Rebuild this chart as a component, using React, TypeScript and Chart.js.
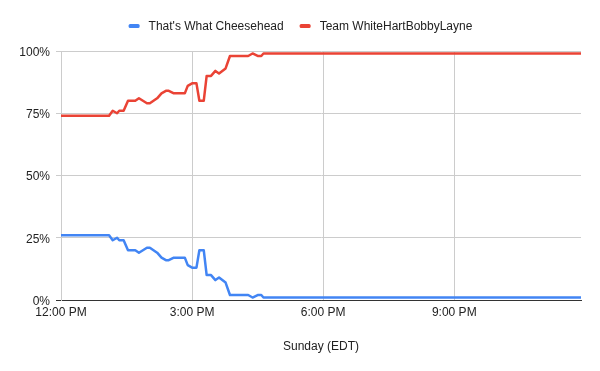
import React, { useEffect, useRef } from 'react';
import { Chart, registerables } from 'chart.js';

Chart.register(...registerables);

const FONT = "'Liberation Sans', Arial, Helvetica, sans-serif";

const seriesNames = ["That's What Cheesehead", 'Team WhiteHartBobbyLayne'];
const seriesColors = ['#4285F4', '#EA4335'];

// minutes after 12:00 PM (Sunday, EDT)
const minutesAfterNoon = [0, 66, 71, 77, 80, 86, 92, 102, 107, 118, 122, 132, 138, 144, 148, 155, 170, 174, 180, 186, 190, 196, 200, 206, 212, 217, 226, 232, 257, 263, 270, 275, 278, 714];
const cheeseheadPct = [26, 26, 24, 25, 24, 24, 20, 20, 19, 21, 21, 19, 17, 16, 16, 17, 17, 14, 13, 13, 20, 20, 10, 10, 8, 9, 7, 2, 2, 1, 2, 2, 1, 1];
const whiteHartPct = [74, 74, 76, 75, 76, 76, 80, 80, 81, 79, 79, 81, 83, 84, 84, 83, 83, 86, 87, 87, 80, 80, 90, 90, 92, 91, 93, 98, 98, 99, 98, 98, 99, 99];

const xTickValues = [0, 180, 360, 540];
const xTickLabels = ['12:00 PM', '3:00 PM', '6:00 PM', '9:00 PM'];
const yTickValues = [0, 25, 50, 75, 100];
const xAxisTitle = 'Sunday (EDT)';

const legendPlugin = {
  id: 'customLegend',
  afterDraw(chart: any) {
    const ctx = chart.ctx;
    ctx.save();
    ctx.font = `12px ${FONT}`;
    ctx.textBaseline = 'middle';
    ctx.textAlign = 'left';
    const markerW = 11;
    const markerH = 4;
    const gap = 9;
    const itemGap = 16;
    const y = 26.5;
    const widths = seriesNames.map((n) => ctx.measureText(n).width);
    const total = widths.reduce((s, w) => s + markerW + gap + w, 0) + itemGap * (seriesNames.length - 1);
    let x = 300.5 - total / 2;
    seriesNames.forEach((n, i) => {
      ctx.fillStyle = seriesColors[i];
      ctx.beginPath();
      if (ctx.roundRect) ctx.roundRect(x, y - 0.5 - markerH / 2, markerW, markerH, 1.5);
      else ctx.rect(x, y - 0.5 - markerH / 2, markerW, markerH);
      ctx.fill();
      ctx.fillStyle = '#222';
      ctx.fillText(n, x + markerW + gap, y);
      x += markerW + gap + widths[i] + itemGap;
    });
    ctx.restore();
  },
};

export default function App() {
  const canvasRef = useRef<HTMLCanvasElement | null>(null);

  useEffect(() => {
    if (!canvasRef.current) return;
    Chart.defaults.font.family = FONT;
    const series = [cheeseheadPct, whiteHartPct];
    const chart = new Chart(canvasRef.current, {
      type: 'line',
      data: {
        datasets: series.map((vals, i) => ({
          label: seriesNames[i],
          data: minutesAfterNoon.map((m, j) => ({ x: m, y: vals[j] })),
          borderColor: seriesColors[i],
          backgroundColor: seriesColors[i],
          borderWidth: 2.5,
          pointRadius: 0,
          tension: 0,
          borderJoinStyle: 'round' as const,
          fill: false,
        })),
      },
      options: {
        responsive: false,
        animation: false,
        layout: { padding: { top: 51, right: 19, bottom: 0, left: 0 } },
        plugins: {
          legend: { display: false },
          tooltip: { enabled: false },
        },
        scales: {
          x: {
            type: 'linear',
            min: 0,
            max: 714,
            afterFit: (scale: any) => {
              scale.height = 71;
            },
            afterBuildTicks: (scale: any) => {
              scale.ticks = xTickValues.map((v) => ({ value: v }));
            },
            ticks: {
              padding: 5,
              color: '#222',
              font: { size: 12 },
              maxRotation: 0,
              autoSkip: false,
              callback: (v: any) => {
                const idx = xTickValues.indexOf(Number(v));
                return idx >= 0 ? xTickLabels[idx] : '';
              },
            },
            grid: { color: '#cccccc', drawTicks: false, lineWidth: 1 },
            border: { color: '#333333', width: 1 },
            title: {
              display: true,
              text: xAxisTitle,
              color: '#222',
              font: { size: 12 },
              padding: { top: 4, bottom: 17 },
            },
          },
          y: {
            type: 'linear',
            min: 0,
            max: 100,
            afterFit: (scale: any) => {
              scale.width = 61;
            },
            afterBuildTicks: (scale: any) => {
              scale.ticks = yTickValues.map((v) => ({ value: v }));
            },
            ticks: {
              padding: 6,
              labelOffset: 1.5,
              color: '#222',
              font: { size: 12 },
              callback: (v: any) => `${v}%`,
            },
            grid: {
              color: (c: any) => (c.tick && c.tick.value === 0 ? '#333333' : '#cccccc'),
              tickLength: 5,
              lineWidth: 1,
            },
            border: { color: '#cccccc', width: 1 },
          },
        },
      },
      plugins: [legendPlugin],
    });
    return () => chart.destroy();
  }, []);

  return (
    <div style={{ position: 'absolute', left: 0, top: 0, width: 600, height: 371, background: '#fff' }}>
      <canvas ref={canvasRef} width={600} height={371} style={{ width: 600, height: 371, display: 'block' }} />
    </div>
  );
}
